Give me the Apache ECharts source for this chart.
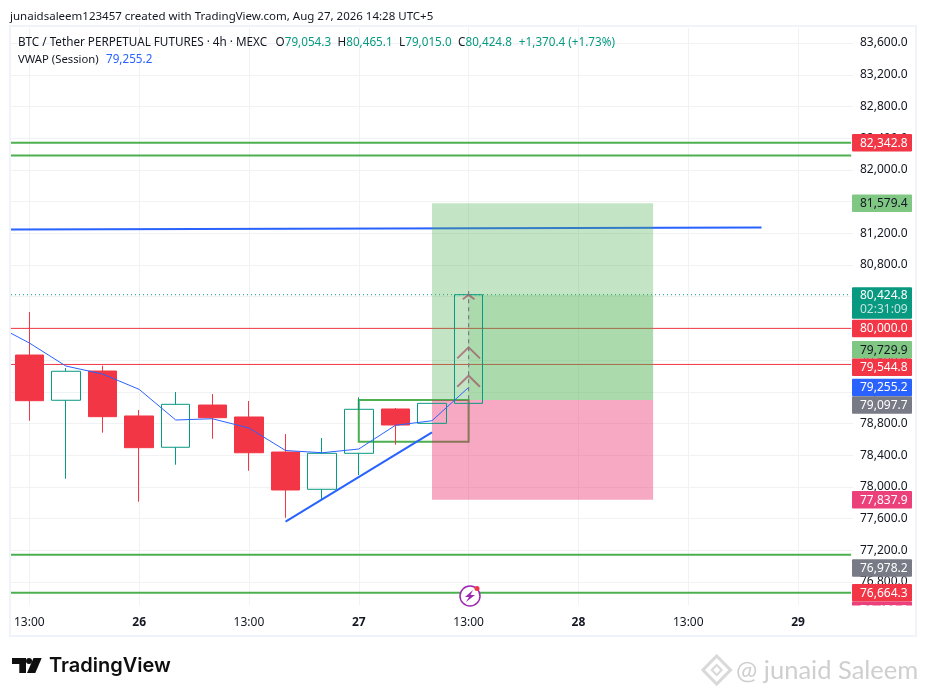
<!DOCTYPE html>
<html><head><meta charset="utf-8">
<style>html,body{margin:0;padding:0;background:#fff}#c{width:927px;height:696px}</style>
<script src="https://cdn.jsdelivr.net/npm/echarts@6/dist/echarts.min.js"></script>
</head><body><div id="c"></div>
<script>
const categories = ['13:00','17:00','21:00','26','05:00','09:00','13:00','17:00','21:00','27','05:00','09:00','13:00','17:00','21:00','28','05:00','09:00','13:00','17:00','21:00','29','05:00'];
// open, close, low, high
const candles = [
 [79664,79088,78835,80207],
 [79093,79459,78103,79500],
 [79462,78886,78684,79529],
 [78895,78495,77813,78970],
 [78500,79042,78280,79197],
 [79033,78873,78608,79172],
 [78882,78431,78204,79084],
 [78440,77961,77611,78667],
 [77970,78424,77835,78617],
 [78424,78979,78150,79130],
 [78983,78781,78532,78996],
 [78802,79054.3,78802,79054.3],
 [79054.3,80424.8,79015.0,80465.1]
];
const vwap = [[-0.5,79938],[0,79816],[1,79525],[2,79424],[3,79231],[4,78844],[5,78860],[6,78743],[7,78459],[8,78431],[9,78478],[10,78777],[11,78835],[12,79255.2]];
const yTicks = [83600,83200,82800,82400,82000,81600,81200,80800,80400,80000,79600,79200,78800,78400,78000,77600,77200,76800];
const xGridTicks = [0,3,6,9,12,15,18,21];
const redLevels = [80000,79544.8];
const greenLevels = [82342.8,82181,77145,76664.3];
const lastPrice = 80424.8;
const blueTop = [[-0.5,81248],[20,81273]];
const blueTrend = [[7,77561],[11,78689]];
const greenBox = [[9,12,79097.7,78570]];
const profitZone = [[11,17.04,81579.4,79097.7]];
const activeZone = [[12,17.04,80424.8,79097.7]];
const lossZone = [[11,17.04,79097.7,77837.9]];
const forecastPath = [[12,80470],[12,79010]];
const chevrons = [[80421,80367,0.16],[79761,79622,0.31],[79403,79264,0.31]];
const priceLabels = [
 [82342.8,'82,342.8','red'],[81579.4,'81,579.4','lime'],[80424.8,'80,424.8','teal','02:31:09'],
 [80000,'80,000.0','red'],[79729.9,'79,729.9','lime'],[79544.8,'79,544.8','red'],
 [79255.2,'79,255.2','blue'],[79097.7,'79,097.7','gray'],[77837.9,'77,837.9','pink'],
 [76978.2,'76,978.2','gray'],[76664.3,'76,664.3','red'],[76459.2,'76,459.2','pink']
];
const LABEL_BG = {red:'#F23645',lime:'#81C784',teal:'#089981',blue:'#2962FF',gray:'#787B86',pink:'#EC407A'};
const FONT = '"Noto Sans", sans-serif';
const TXT='#131722', UP='#089981', DOWN='#F23645', BLUE='#2962FF', GREEN='#4CAF50', GRIDC='#F1F2F4';

function lineSeries(pts, color, width, z, type){
  return {type:'line',xAxisIndex:1,yAxisIndex:0,data:pts,showSymbol:false,symbol:'none',silent:true,z:z,
    animation:false,lineStyle:{color:color,width:width,type:type||'solid'}};
}
function rectSeries(rows, style, z){
  return {type:'custom',xAxisIndex:1,yAxisIndex:0,data:rows,silent:true,z:z,animation:false,clip:true,
    renderItem:function(p,api){
      const a=api.coord([api.value(0),api.value(2)]), b=api.coord([api.value(1),api.value(3)]);
      return {type:'rect',shape:{x:a[0],y:a[1],width:b[0]-a[0],height:b[1]-a[1]},style:style};
    }};
}
let prevBottom=0;
const series=[
  ...redLevels.map(v=>lineSeries([[-0.5,v],[22.45,v]],DOWN,1,2)),
  ...greenLevels.map(v=>lineSeries([[-0.5,v],[22.45,v]],GREEN,2,2)),
  lineSeries([[-0.5,lastPrice],[22.45,lastPrice]],UP,1,2,[1,3]),
  lineSeries(blueTop,BLUE,2,2),
  rectSeries(greenBox,{fill:'none',stroke:GREEN,lineWidth:2},2),
  rectSeries(profitZone,{fill:'rgba(76,175,80,0.33)'},3),
  rectSeries(activeZone,{fill:'rgba(76,175,80,0.2)'},3),
  rectSeries(lossZone,{fill:'rgba(233,30,99,0.38)'},3),
  {type:'candlestick',xAxisIndex:0,yAxisIndex:0,data:candles,barWidth:29,z:4,animation:false,silent:true,
    itemStyle:{color:'rgba(0,0,0,0)',color0:DOWN,borderColor:UP,borderColor0:DOWN,borderWidth:1}},
  lineSeries(vwap,BLUE,1,5),
  lineSeries(blueTrend,BLUE,2,5),
  lineSeries(forecastPath,'#787B86',1.2,6,[4,4]),
  {type:'custom',xAxisIndex:1,yAxisIndex:0,data:chevrons,silent:true,z:6,animation:false,
    renderItem:function(p,api){
      const c=12, w=api.value(2);
      return {type:'polyline',shape:{points:[api.coord([c-w,api.value(1)]),api.coord([c,api.value(0)]),api.coord([c+w,api.value(1)])]},
        style:{fill:'none',stroke:'rgba(160,70,90,0.65)',lineWidth:2}};
    }},
  {type:'custom',xAxisIndex:1,yAxisIndex:0,data:priceLabels.map(r=>[0,r[0]]),silent:true,z:10,animation:false,clip:false,
    renderItem:function(p,api){
      if(p.dataIndex===0) prevBottom=0;
      const r=priceLabels[p.dataIndex];
      const y=Math.max(api.coord([0,r[0]])[1],prevBottom+8.75);
      const two=!!r[3];
      prevBottom= two? y+24 : y+8.75;
      const dark=r[2]==='lime';
      const kids=[{type:'rect',shape:{x:852,y:y-(two?7.5:8.75),width:60,height:two?31.5:17.5,r:1},style:{fill:LABEL_BG[r[2]]}},
        {type:'text',x:860,y:y+0.5,style:{text:r[1],fill:dark?TXT:'#fff',font:'12px '+FONT,textAlign:'left',textVerticalAlign:'middle'}}];
      if(two) kids.push({type:'text',x:860,y:y+15,style:{text:r[3],fill:'rgba(255,255,255,0.75)',font:'12px '+FONT,textAlign:'left',textVerticalAlign:'middle'}});
      return {type:'group',children:kids};
    }}
];

const HF='11.7px '+FONT;
const T=(txt,x,y,fill,font,extra)=>({type:'text',x:x,y:y,z:50,silent:true,style:Object.assign({text:txt,fill:fill,font:font,textVerticalAlign:'middle'},extra||{})});
const headerRich={t:{fill:TXT,font:HF},o:{fill:TXT,font:HF,padding:[0,0,0,8.5]},k:{fill:TXT,font:HF,padding:[0,0,0,6.5]},g:{fill:UP,font:HF},d:{fill:UP,font:HF,padding:[0,0,0,7]}};

const chart=echarts.init(document.getElementById('c'),null,{renderer:'canvas'});
chart.setOption({
  animation:false,backgroundColor:'#fff',
  grid:{left:11,top:28,width:842,height:577,containLabel:false},
  xAxis:[
   {type:'category',data:categories,boundaryGap:true,axisLine:{show:false},
    axisTick:{show:false,alignWithLabel:true,interval:2},
    splitLine:{show:false},
    axisLabel:{interval:2,margin:11.5,color:TXT,fontFamily:'"Noto Sans",sans-serif',fontSize:12,
      formatter:function(v){return /^\d+$/.test(v)?'{b|'+v+'}':v;},
      rich:{b:{fontWeight:'bold',color:TXT,fontFamily:'"Noto Sans",sans-serif',fontSize:12}}}},
   {type:'value',min:-0.5,max:22.5,axisLine:{show:false},axisLabel:{show:false},
    axisTick:{show:false,customValues:xGridTicks},
    splitLine:{show:true,lineStyle:{color:GRIDC,width:1}}}
  ],
  yAxis:[{type:'value',position:'right',min:76510,max:83790,scale:true,
    axisLine:{show:false},
    axisTick:{show:false,customValues:yTicks},
    splitLine:{show:true,lineStyle:{color:GRIDC,width:1}},
    axisLabel:{customValues:yTicks,margin:7,color:TXT,fontFamily:'"Noto Sans",sans-serif',fontSize:12,align:'left',
      padding:[0,0,3,0],showMinLabel:true,showMaxLabel:true,hideOverlap:false,
      formatter:function(v){return v.toLocaleString('en-US',{minimumFractionDigits:1,maximumFractionDigits:1});}}}],
  series:series,
  graphic:{elements:[
    {type:'rect',z:40,silent:true,shape:{x:10,y:26,width:906,height:610},style:{fill:'none',stroke:'#F0F3FA',lineWidth:2}},
    {type:'rect',z:40,silent:true,shape:{x:851,y:605.5,width:63,height:16},style:{fill:'#fff'}},
    T('junaidsaleem123457 created with TradingView.com, Aug 27, 2026 14:28 UTC+5',10,16.5,TXT,'11.5px '+FONT),
    T('{t|BTC / Tether PERPETUAL FUTURES · 4h · MEXC}{o|O}{g|79,054.3}{k|H}{g|80,465.1}{k|L}{g|79,015.0}{k|C}{g|80,424.8}{d|+1,370.4 (+1.73%)}',18,43,TXT,HF,{rich:headerRich}),
    T('VWAP (Session)',18,60,TXT,'11.3px '+FONT),
    T('79,255.2',106,60,BLUE,HF),
    // event icon
    {type:'circle',z:45,silent:true,shape:{cx:470,cy:596,r:10},style:{fill:'#fff',stroke:'#9C27B0',lineWidth:1.5}},
    {type:'polygon',z:46,silent:true,shape:{points:[[473,590],[465,597],[469,597],[466,602],[475,595],[470.5,595]]},style:{fill:'#9C27B0'}},
    {type:'circle',z:47,silent:true,shape:{cx:477,cy:588.5,r:2.5},style:{fill:'#F23645'}},
    // TradingView logo
    {type:'polygon',z:45,silent:true,shape:{points:[[12,658],[26,658],[26,673],[19.3,673],[19.3,664],[12,664]]},style:{fill:'#0F0F0F'}},
    {type:'circle',z:45,silent:true,shape:{cx:29,cy:661,r:3},style:{fill:'#0F0F0F'}},
    {type:'polygon',z:45,silent:true,shape:{points:[[33.5,658],[41.7,658],[35.3,673],[27,673]]},style:{fill:'#0F0F0F'}},
    T('TradingView',49,666,'#0F0F0F','600 20px Inter, sans-serif'),
    // watermark
    {type:'polygon',z:45,silent:true,shape:{points:[[716.7,656],[730.5,670],[716.7,684],[703,670]]},style:{fill:'none',stroke:'#D9D9D9',lineWidth:3}},
    {type:'polygon',z:45,silent:true,shape:{points:[[716.7,665],[721.7,670],[716.7,675],[711.7,670]]},style:{fill:'none',stroke:'#D9D9D9',lineWidth:2}},
    T('@ junaid Saleem',736,671,'#CFCFCF','25.5px Lato, sans-serif')
  ]}
});
</script></body></html>
